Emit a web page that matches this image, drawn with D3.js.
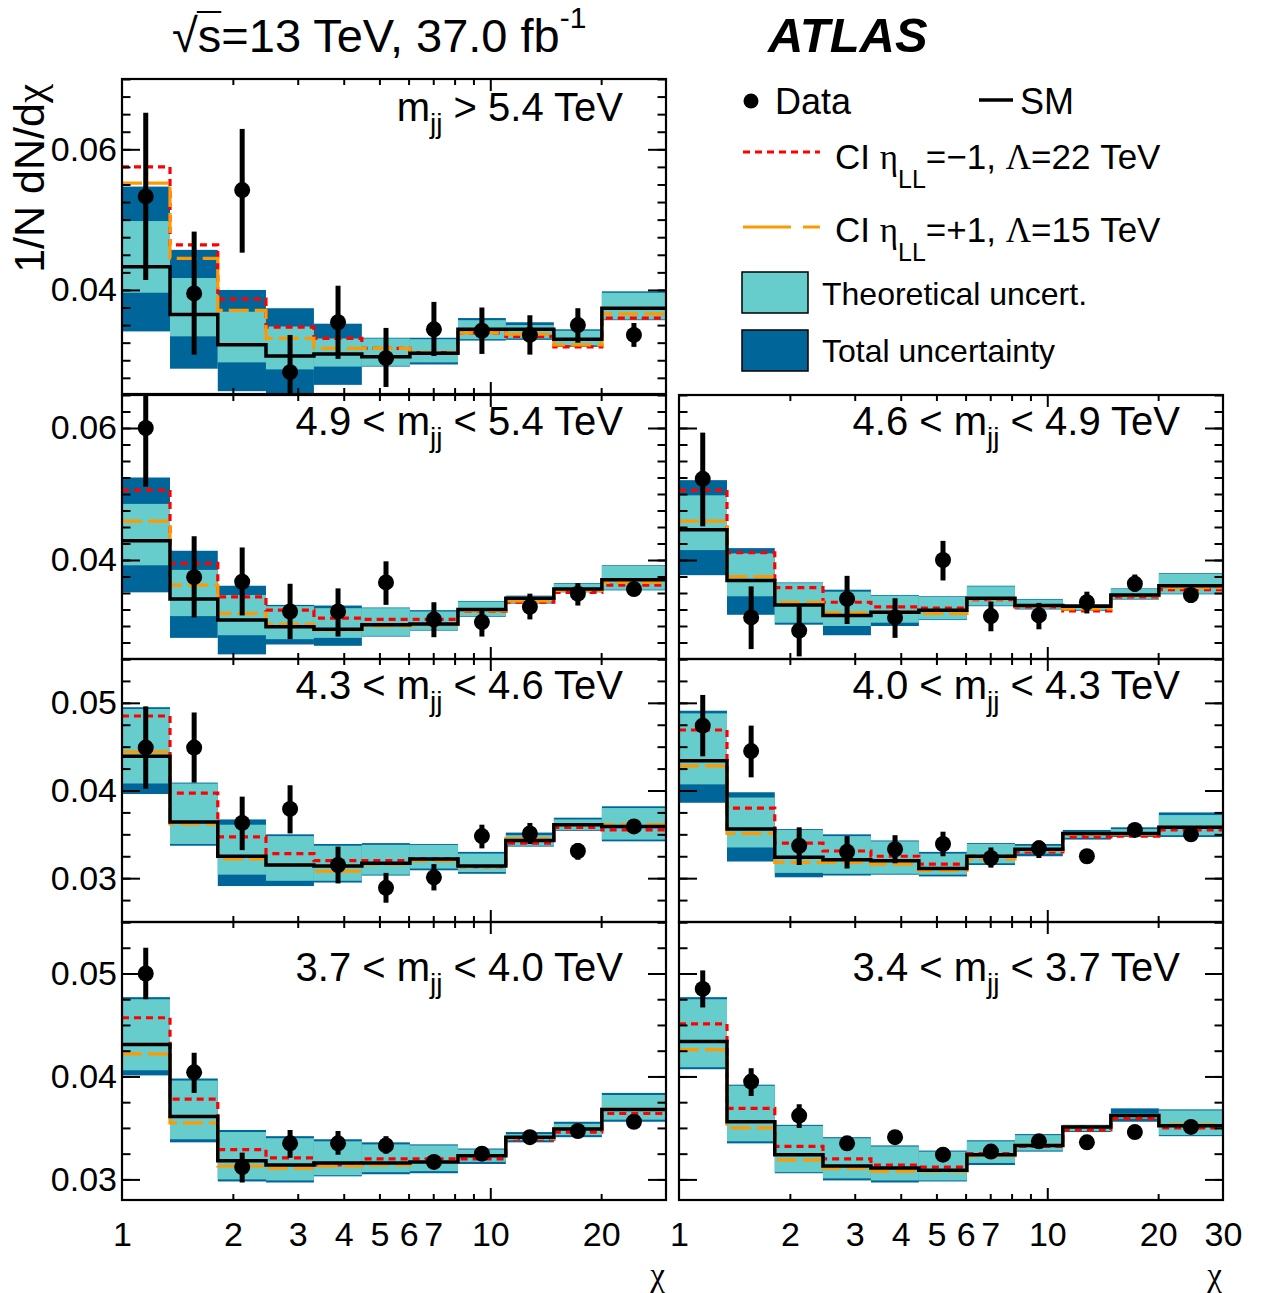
<!DOCTYPE html>
<html><head><meta charset="utf-8">
<script src="https://cdn.jsdelivr.net/npm/d3@7"></script>
<style>body{margin:0;background:#fff}text{font-family:'Liberation Sans',Arial,Helvetica,sans-serif;fill:#000}</style>
</head><body>
<svg id="c" width="1262" height="1293"></svg>
<script>
// ---------------- DATA ----------------
const chiEdges = [1, 1.35, 1.82, 2.46, 3.32, 4.48, 6.05, 8.17, 11.02, 14.88, 20.09, 30];
const chiCenters = [1.16, 1.57, 2.12, 2.86, 3.86, 5.21, 7.03, 9.49, 12.81, 17.29, 24.55];
const massLow  = [null, "4.9", "4.6", "4.3", "4.0", "3.7", "3.4"];
const massHigh = ["5.4", "5.4", "4.9", "4.6", "4.3", "4.0", "3.7"];
const yDomains = [[0.0252,0.07],[0.025,0.065],[0.025,0.065],[0.025,0.055],[0.025,0.055],[0.028,0.055],[0.028,0.055]];
const yTickValues = [[0.04,0.06],[0.04,0.06],[0.04,0.06],[0.03,0.04,0.05],[0.03,0.04,0.05],[0.03,0.04,0.05],[0.03,0.04,0.05]];
const xTickLeft  = [1,2,3,4,5,6,7,10,20];
const xTickRight = [1,2,3,4,5,6,7,10,20,30];

const dataVal = [
[0.0533,0.0395,0.0542,0.0283,0.0354,0.0303,0.0344,0.0342,0.0336,0.0350,0.0336],
[0.0600,0.0374,0.0367,0.0322,0.0322,0.0366,0.0310,0.0306,0.0329,0.0349,0.0356],
[0.0523,0.0313,0.0293,0.0341,0.0313,0.0400,0.0315,0.0316,0.0336,0.0364,0.0347],
[0.0449,0.0449,0.0363,0.0379,0.0315,0.0289,0.0301,0.0348,0.0351,0.0331,0.0359],
[0.0474,0.0445,0.0337,0.0330,0.0333,0.0339,0.0323,0.0334,0.0325,0.0355,0.0350],
[0.0500,0.0404,0.0312,0.0335,0.0335,0.0333,0.0317,0.0325,0.0341,0.0347,0.0356],
[0.0485,0.0395,0.0362,0.0335,0.0341,0.0324,0.0327,0.0337,0.0336,0.0346,0.0351]
];
const dataHi = [
[0.0652,0.0483,0.0629,0.0336,0.0406,0.0346,0.0383,0.0375,0.0364,0.0374,0.0353],
[0.0665,0.0436,0.0419,0.0364,0.0357,0.0398,0.0336,0.0327,0.0349,0.0365,0.0365],
[0.0593,0.0360,0.0330,0.0376,0.0342,0.0429,0.0337,0.0335,0.0352,0.0378,0.0357],
[0.0496,0.0489,0.0393,0.0406,0.0336,0.0306,0.0316,0.0361,0.0363,0.0340,0.0366],
[0.0509,0.0474,0.0358,0.0348,0.0349,0.0353,0.0335,0.0343,0.0329,0.0359,0.0355],
[0.0525,0.0423,0.0326,0.0348,0.0347,0.0342,0.0322,0.0330,0.0345,0.0351,0.0360],
[0.0503,0.0408,0.0373,0.0341,0.0346,0.0329,0.0332,0.0342,0.0341,0.0351,0.0356]
];
const dataLo = [
[0.0414,0.0308,0.0453,0.0240,0.0302,0.0262,0.0306,0.0309,0.0308,0.0325,0.0319],
[0.0511,0.0313,0.0316,0.0280,0.0284,0.0332,0.0283,0.0284,0.0310,0.0331,0.0346],
[0.0451,0.0265,0.0254,0.0303,0.0282,0.0369,0.0292,0.0295,0.0319,0.0352,0.0335],
[0.0402,0.0409,0.0332,0.0351,0.0294,0.0272,0.0286,0.0334,0.0339,0.0321,0.0352],
[0.0439,0.0415,0.0315,0.0311,0.0317,0.0325,0.0312,0.0323,0.0321,0.0351,0.0345],
[0.0475,0.0384,0.0297,0.0321,0.0324,0.0325,0.0312,0.0320,0.0337,0.0343,0.0352],
[0.0467,0.0381,0.0350,0.0329,0.0336,0.0319,0.0322,0.0332,0.0331,0.0341,0.0346]
];
const smVal = [
[0.0433,0.0365,0.0322,0.0306,0.0309,0.0305,0.0310,0.0344,0.0344,0.0330,0.0374],
[0.0429,0.0341,0.0309,0.0299,0.0295,0.0302,0.0303,0.0325,0.0342,0.0356,0.0370],
[0.0446,0.0369,0.0332,0.0316,0.0321,0.0324,0.0342,0.0331,0.0330,0.0347,0.0361],
[0.0439,0.0364,0.0325,0.0315,0.0314,0.0317,0.0322,0.0314,0.0343,0.0361,0.0359],
[0.0434,0.0356,0.0324,0.0321,0.0320,0.0311,0.0325,0.0333,0.0351,0.0351,0.0358],
[0.0431,0.0361,0.0318,0.0314,0.0316,0.0316,0.0317,0.0323,0.0341,0.0349,0.0368],
[0.0434,0.0356,0.0324,0.0313,0.0311,0.0309,0.0324,0.0333,0.0351,0.0362,0.0352]
];
const theoryHi = [
[0.0498,0.0417,0.0369,0.0348,0.0331,0.0331,0.0330,0.0357,0.0350,0.0342,0.0396],
[0.0485,0.0385,0.0347,0.0330,0.0327,0.0327,0.0322,0.0337,0.0345,0.0364,0.0391],
[0.0498,0.0410,0.0365,0.0352,0.0346,0.0344,0.0360,0.0340,0.0332,0.0356,0.0379],
[0.0493,0.0408,0.0361,0.0348,0.0337,0.0338,0.0338,0.0328,0.0349,0.0367,0.0380],
[0.0488,0.0392,0.0355,0.0348,0.0342,0.0328,0.0339,0.0337,0.0353,0.0356,0.0372],
[0.0475,0.0396,0.0346,0.0340,0.0337,0.0334,0.0333,0.0329,0.0344,0.0354,0.0382],
[0.0475,0.0391,0.0352,0.0340,0.0332,0.0327,0.0337,0.0343,0.0352,0.0364,0.0367]
];
const theoryLo = [
[0.0396,0.0334,0.0297,0.0287,0.0291,0.0292,0.0297,0.0330,0.0331,0.0321,0.0358],
[0.0392,0.0315,0.0286,0.0280,0.0282,0.0285,0.0294,0.0315,0.0335,0.0352,0.0355],
[0.0415,0.0345,0.0305,0.0300,0.0305,0.0310,0.0331,0.0326,0.0324,0.0341,0.0349],
[0.0408,0.0339,0.0304,0.0297,0.0297,0.0304,0.0311,0.0307,0.0337,0.0355,0.0344],
[0.0407,0.0335,0.0306,0.0305,0.0305,0.0304,0.0317,0.0328,0.0346,0.0348,0.0349],
[0.0406,0.0339,0.0300,0.0299,0.0304,0.0307,0.0308,0.0317,0.0338,0.0343,0.0358],
[0.0409,0.0337,0.0307,0.0301,0.0299,0.0299,0.0316,0.0328,0.0347,0.0359,0.0343]
];
const totalHi = [
[0.0547,0.0457,0.0400,0.0374,0.0352,0.0332,0.0332,0.0360,0.0354,0.0344,0.0398],
[0.0525,0.0414,0.0361,0.0332,0.0331,0.0328,0.0324,0.0338,0.0346,0.0365,0.0392],
[0.0521,0.0418,0.0366,0.0355,0.0347,0.0345,0.0361,0.0341,0.0333,0.0357,0.0380],
[0.0495,0.0409,0.0367,0.0350,0.0339,0.0340,0.0339,0.0330,0.0352,0.0369,0.0382],
[0.0491,0.0398,0.0356,0.0350,0.0343,0.0330,0.0340,0.0339,0.0355,0.0358,0.0375],
[0.0477,0.0398,0.0348,0.0342,0.0339,0.0336,0.0334,0.0330,0.0346,0.0356,0.0384],
[0.0477,0.0392,0.0353,0.0341,0.0333,0.0328,0.0338,0.0344,0.0353,0.0369,0.0368]
];
const totalLo = [
[0.0341,0.0288,0.0256,0.0245,0.0265,0.0291,0.0294,0.0328,0.0329,0.0319,0.0357],
[0.0351,0.0282,0.0257,0.0272,0.0270,0.0284,0.0293,0.0314,0.0334,0.0351,0.0354],
[0.0377,0.0317,0.0302,0.0286,0.0300,0.0309,0.0330,0.0325,0.0323,0.0340,0.0348],
[0.0396,0.0337,0.0291,0.0291,0.0295,0.0303,0.0309,0.0305,0.0336,0.0354,0.0342],
[0.0386,0.0319,0.0301,0.0303,0.0304,0.0302,0.0315,0.0325,0.0344,0.0347,0.0347],
[0.0401,0.0336,0.0298,0.0297,0.0303,0.0305,0.0306,0.0315,0.0336,0.0341,0.0356],
[0.0407,0.0335,0.0306,0.0299,0.0297,0.0298,0.0314,0.0327,0.0346,0.0356,0.0342]
];
const ciNegVal = [
[0.0575,0.0464,0.0387,0.0347,0.0331,0.0317,0.0311,0.0339,0.0334,0.0319,0.0360],
[0.0506,0.0395,0.0344,0.0324,0.0312,0.0310,0.0310,0.0322,0.0336,0.0351,0.0362],
[0.0506,0.0411,0.0358,0.0336,0.0329,0.0327,0.0340,0.0329,0.0323,0.0344,0.0355],
[0.0485,0.0397,0.0347,0.0328,0.0320,0.0320,0.0322,0.0313,0.0340,0.0358,0.0355],
[0.0469,0.0380,0.0340,0.0331,0.0325,0.0316,0.0325,0.0330,0.0347,0.0348,0.0355],
[0.0457,0.0378,0.0329,0.0321,0.0314,0.0320,0.0320,0.0320,0.0339,0.0346,0.0364],
[0.0451,0.0369,0.0332,0.0320,0.0314,0.0312,0.0325,0.0332,0.0348,0.0359,0.0350]
];
const ciPosVal = [
[0.0552,0.0445,0.0371,0.0331,0.0317,0.0317,0.0311,0.0339,0.0337,0.0322,0.0366],
[0.0459,0.0362,0.0319,0.0303,0.0294,0.0300,0.0302,0.0323,0.0338,0.0354,0.0366],
[0.0459,0.0375,0.0336,0.0320,0.0321,0.0319,0.0341,0.0330,0.0326,0.0346,0.0358],
[0.0444,0.0362,0.0322,0.0315,0.0308,0.0316,0.0320,0.0313,0.0345,0.0361,0.0361],
[0.0428,0.0351,0.0318,0.0318,0.0316,0.0309,0.0322,0.0332,0.0350,0.0350,0.0358],
[0.0422,0.0355,0.0313,0.0311,0.0313,0.0314,0.0317,0.0323,0.0340,0.0349,0.0368],
[0.0426,0.0350,0.0319,0.0311,0.0308,0.0308,0.0323,0.0333,0.0351,0.0362,0.0353]
];

// ---------------- LAYOUT ----------------
const C_TH = '#66cccc', C_TOT = '#006699', C_RED = '#ff0000', C_ORA = '#ff9900';
const colX = [[122,666],[679,1223]];
const rowY = [[79,394],[395,659],[659,922],[922,1200]];
const panelCol = [0,0,1,0,1,0,1];
const panelRow = [0,1,1,2,2,3,3];
const labelOffset = [42,40,40,40,40,59,59];
const svg = d3.select('#c');
const SERIF = "'Liberation Serif','Times New Roman',serif";

for (let p = 0; p < 7; p++) {
  const [x0,x1] = colX[panelCol[p]];
  const [y0,y1] = rowY[panelRow[p]];
  const x = d3.scaleLog().domain([1,30]).range([x0,x1]);
  const y = d3.scaleLinear().domain(yDomains[p]).range([y1,y0]);
  const g = svg.append('g');
  const cid = 'clip'+p;
  svg.append('clipPath').attr('id',cid).append('rect').attr('x',x0).attr('y',y0).attr('width',x1-x0).attr('height',y1-y0);
  const cg = g.append('g').attr('clip-path',`url(#${cid})`);
  const bins = d3.range(11);
  cg.selectAll('rect.tot').data(bins).join('rect')
    .attr('x',i=>x(chiEdges[i])).attr('width',i=>x(chiEdges[i+1])-x(chiEdges[i]))
    .attr('y',i=>y(totalHi[p][i])).attr('height',i=>y(totalLo[p][i])-y(totalHi[p][i]))
    .attr('fill',C_TOT);
  cg.selectAll('rect.th').data(bins).join('rect')
    .attr('x',i=>x(chiEdges[i])).attr('width',i=>x(chiEdges[i+1])-x(chiEdges[i]))
    .attr('y',i=>y(theoryHi[p][i])).attr('height',i=>y(theoryLo[p][i])-y(theoryHi[p][i]))
    .attr('fill',C_TH);
  const step = d3.line().x(d=>x(d[0])).y(d=>y(d[1])).curve(d3.curveStepAfter);
  const pts = arr => arr.map((v,i)=>[chiEdges[i],v]).concat([[chiEdges[11],arr[10]]]);
  cg.append('path').attr('d',step(pts(ciNegVal[p]))).attr('fill','none').attr('stroke',C_RED).attr('stroke-width',3.2).attr('stroke-dasharray','7,5');
  cg.append('path').attr('d',step(pts(ciPosVal[p]))).attr('fill','none').attr('stroke',C_ORA).attr('stroke-width',3.2).attr('stroke-dasharray','20,6');
  cg.append('path').attr('d',step(pts(smVal[p]))).attr('fill','none').attr('stroke','#000').attr('stroke-width',3.5);
  cg.selectAll('line.err').data(bins).join('line')
    .attr('x1',i=>x(chiCenters[i])).attr('x2',i=>x(chiCenters[i]))
    .attr('y1',i=>y(dataHi[p][i])).attr('y2',i=>y(dataLo[p][i]))
    .attr('stroke','#000').attr('stroke-width',5);
  cg.selectAll('circle.pt').data(bins).join('circle')
    .attr('cx',i=>x(chiCenters[i])).attr('cy',i=>y(dataVal[p][i])).attr('r',8).attr('fill','#000');

  // axes
  const yMinor = d3.range(Math.ceil(yDomains[p][0]/0.0025-1e-6)*0.0025, yDomains[p][1]+1e-9, 0.0025);
  const showY = panelCol[p] === 0;
  const fmt = d3.format('.2f');
  const style = sel => { sel.select('.domain').remove(); sel.selectAll('line').attr('stroke','#000').attr('stroke-width',2); sel.selectAll('text').attr('font-size',34).attr('font-family',"'Liberation Sans',Arial,sans-serif"); };
  g.append('g').attr('transform',`translate(${x0},0)`).call(d3.axisLeft(y).tickValues(yMinor).tickSize(-8.5).tickFormat('')).call(style);
  g.append('g').attr('transform',`translate(${x1},0)`).call(d3.axisRight(y).tickValues(yMinor).tickSize(-8.5).tickFormat('')).call(style);
  g.append('g').attr('transform',`translate(${x1},0)`).call(d3.axisRight(y).tickValues(yTickValues[p]).tickSize(-18).tickFormat('')).call(style);
  g.append('g').attr('transform',`translate(${x0},0)`).call(d3.axisLeft(y).tickValues(yTickValues[p]).tickSize(-18).tickPadding(5).tickFormat(showY ? fmt : '')).call(style);

  const xMinor = [2,3,4,5,6,7,8,9,20];
  const xMajor = [10];
  const bottom = panelRow[p] === 3;
  g.append('g').attr('transform',`translate(0,${y0})`).call(d3.axisTop(x).tickValues(xMinor).tickSize(-6).tickFormat('')).call(style);
  g.append('g').attr('transform',`translate(0,${y0})`).call(d3.axisTop(x).tickValues(xMajor).tickSize(-12).tickFormat('')).call(style);
  g.append('g').attr('transform',`translate(0,${y1})`).call(d3.axisBottom(x).tickValues(xMinor).tickSize(-6).tickFormat('')).call(style);
  g.append('g').attr('transform',`translate(0,${y1})`).call(d3.axisBottom(x).tickValues(xMajor).tickSize(-12).tickFormat('')).call(style);
  if (bottom) {
    const vals = panelCol[p]===0 ? xTickLeft : xTickRight;
    g.append('g').attr('transform',`translate(0,${y1})`).call(d3.axisBottom(x).tickValues(vals).tickSize(0).tickPadding(22).tickFormat(d3.format('d'))).call(style);
    g.append('text').attr('x',x1-1).attr('y',1286).attr('text-anchor','end').attr('font-size',33).style('font-family',SERIF).text('χ');
  }
  g.append('rect').attr('x',x0).attr('y',y0).attr('width',x1-x0).attr('height',y1-y0).attr('fill','none').attr('stroke','#000').attr('stroke-width',2.2);
  const lt = g.append('text').attr('x',x1-43).attr('y',y0+labelOffset[p]).attr('text-anchor','end').attr('font-size',40);
  lt.append('tspan').text(massLow[p] ? massLow[p]+' < m' : 'm');
  lt.append('tspan').attr('dy',12).attr('font-size',28).text('jj');
  lt.append('tspan').attr('dy',-12).text((massLow[p] ? ' < ' : ' > ')+massHigh[p]+' TeV');
}

// ---------------- TITLE ----------------
const title = svg.append('text').attr('x',172).attr('y',52).attr('font-size',47);
title.append('tspan').text('√');
title.append('tspan').text('s=13 TeV, 37.0 fb');
title.append('tspan').attr('dy',-24).attr('font-size',30).text('-1');
{
  const n = title.node();
  const e0 = n.getExtentOfChar(0), e1 = n.getExtentOfChar(1);
  svg.append('line').attr('x1',e0.x+e0.width-1).attr('x2',e1.x+e1.width).attr('y1',e0.y+3).attr('y2',e0.y+3).attr('stroke','#000').attr('stroke-width',2);
}
svg.append('text').attr('x',768).attr('y',52).attr('font-size',49).attr('font-weight','bold').attr('font-style','italic').text('ATLAS');

// y title
const yt = svg.append('text').attr('transform','rotate(-90)').attr('x',-84).attr('y',44).attr('text-anchor','end').attr('font-size',43);
yt.append('tspan').text('1/N dN/d');
yt.append('tspan').style('font-family',SERIF).text('χ');

// ---------------- LEGEND ----------------
const lg = svg.append('g');
lg.append('circle').attr('cx',751).attr('cy',101).attr('r',7.5).attr('fill','#000');
lg.append('text').attr('x',775).attr('y',114).attr('font-size',36).text('Data');
lg.append('line').attr('x1',979).attr('x2',1013).attr('y1',100).attr('y2',100).attr('stroke','#000').attr('stroke-width',3.5);
lg.append('text').attr('x',1020).attr('y',114).attr('font-size',36).text('SM');
lg.append('line').attr('x1',743).attr('x2',820).attr('y1',152).attr('y2',152).attr('stroke',C_RED).attr('stroke-width',3.2).attr('stroke-dasharray','7,5');
lg.append('line').attr('x1',743).attr('x2',820).attr('y1',227).attr('y2',227).attr('stroke',C_ORA).attr('stroke-width',3.2).attr('stroke-dasharray','48,12');
function ciText(yb, rest) {
  const t = lg.append('text').attr('x',835).attr('y',yb).attr('font-size',35);
  t.append('tspan').text('CI ');
  t.append('tspan').style('font-family',SERIF).text('η');
  t.append('tspan').attr('dy',19).attr('font-size',25).text('LL');
  const r = t.append('tspan').attr('dy',-19);
  r.text(rest[0]);
  t.append('tspan').style('font-family',SERIF).text('Λ');
  t.append('tspan').text(rest[1]);
}
ciText(169, ['=−1, ', '=22 TeV']);
ciText(242, ['=+1, ', '=15 TeV']);
lg.append('rect').attr('x',742).attr('y',272).attr('width',66).attr('height',41).attr('fill',C_TH).attr('stroke','#000').attr('stroke-width',1.5);
lg.append('text').attr('x',822).attr('y',305).attr('font-size',32).text('Theoretical uncert.');
lg.append('rect').attr('x',742).attr('y',330).attr('width',66).attr('height',41).attr('fill',C_TOT).attr('stroke','#000').attr('stroke-width',1.5);
lg.append('text').attr('x',822).attr('y',362).attr('font-size',32).text('Total uncertainty');
</script>
</body></html>
